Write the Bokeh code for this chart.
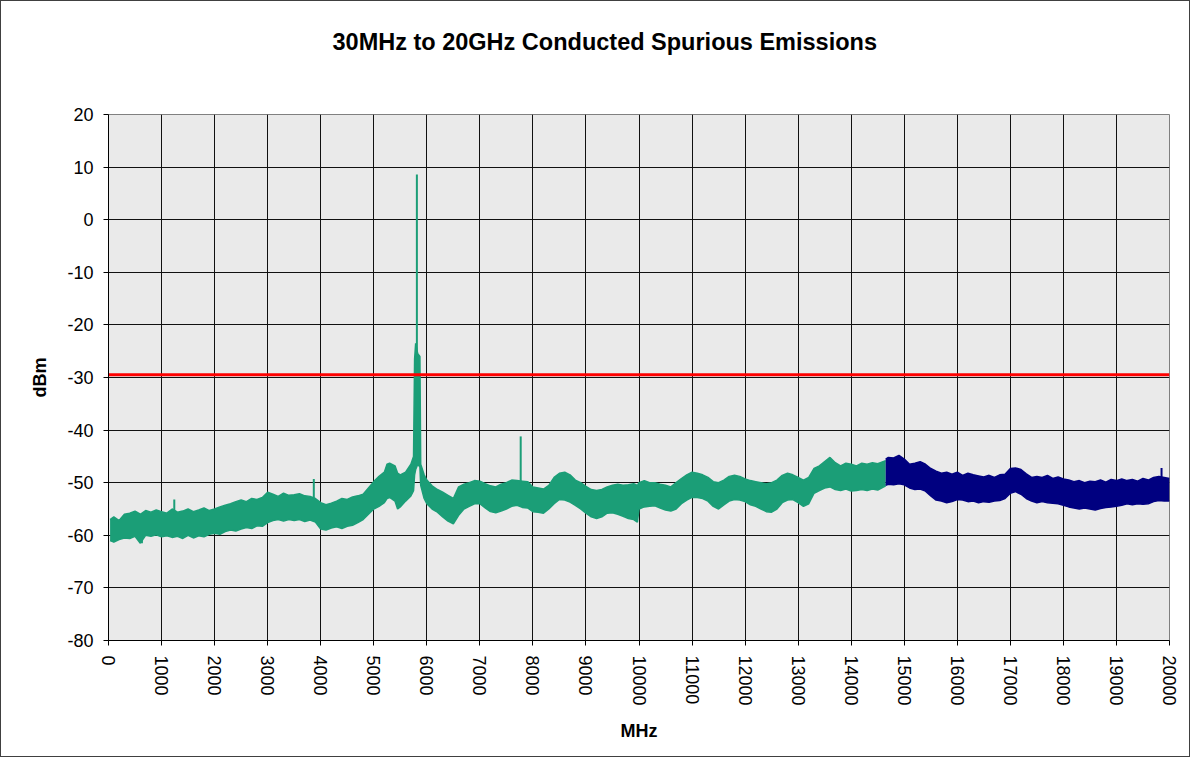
from bokeh.plotting import figure
from bokeh.models import Range1d, FixedTicker, Title
from bokeh.embed import file_html
from bokeh.resources import INLINE

# ---------------- data ----------------
x_ticks = list(range(0, 20001, 1000))
x_tick_labels = [str(v) for v in x_ticks]
y_ticks = list(range(-80, 21, 10))
y_tick_labels = [str(v) for v in y_ticks]

# green trace (30 MHz .. ~14.6 GHz): frequency, upper and lower envelope (dBm)
green_mhz = [30, 100, 200, 300, 400, 500, 600, 700, 800, 900,
             1000, 1100, 1200, 1300, 1400, 1500, 1600, 1700, 1800, 1900,
             2000, 2100, 2200, 2300, 2400, 2500, 2600, 2700, 2800, 2900,
             3000, 3100, 3200, 3300, 3400, 3500, 3600, 3700, 3800, 3900,
             4000, 4100, 4200, 4300, 4400, 4500, 4600, 4700, 4800, 4900,
             5000, 5100, 5200, 5250, 5300, 5400, 5450, 5500, 5600, 5700,
             5750, 5770, 5790, 5830, 5870, 5885, 5950,
             6000, 6100, 6200, 6300, 6400, 6500, 6600, 6700, 6800, 6900,
             7000, 7100, 7200, 7300, 7400, 7500, 7600, 7700, 7800, 7900,
             8000, 8100, 8200, 8300, 8400, 8500, 8600, 8700, 8800, 8900,
             9000, 9100, 9200, 9300, 9400, 9500, 9600, 9700, 9800, 9900, 9970,
             10000, 10100, 10200, 10300, 10400, 10500, 10600, 10700, 10800, 10900,
             11000, 11100, 11200, 11300, 11400, 11500, 11600, 11700, 11800, 11900,
             12000, 12100, 12200, 12300, 12400, 12500, 12600, 12700, 12800, 12900,
             13000, 13100, 13200, 13300, 13400, 13500, 13600, 13700, 13800, 13900,
             14000, 14100, 14200, 14300, 14400, 14500, 14650]
green_hi = [-57.0, -56.5, -57.2, -56.0, -55.8, -55.4, -56.0, -55.3, -55.6, -55.2,
            -55.5, -55.8, -55.0, -55.6, -55.4, -55.0, -55.5, -55.2, -54.8, -55.3,
            -55.0, -54.6, -54.3, -54.0, -53.6, -53.3, -53.6, -53.0, -53.2, -52.8,
            -51.8, -52.2, -52.6, -52.0, -52.4, -52.3, -52.1, -52.5, -52.6, -53.0,
            -53.8, -54.2, -53.9, -53.5, -53.0, -53.2, -52.7, -52.5, -52.2, -51.0,
            -49.8, -48.8, -48.0, -46.5, -46.3, -46.8, -48.2, -48.5, -48.0, -46.5,
            -45.0, -26.5, -23.5, -25.5, -26.0, -46.5, -48.5,
            -49.5, -50.6, -51.3, -51.8, -52.4, -53.0, -50.8, -50.3, -50.0, -49.6,
            -49.7, -50.2, -50.6, -50.8, -50.3, -50.0, -49.5, -49.6, -49.7, -49.8,
            -50.8, -51.0, -51.2, -50.5, -49.0, -48.2, -48.0, -48.5, -49.5, -50.0,
            -50.7, -51.3, -51.5, -51.3, -50.8, -50.5, -50.3, -50.5, -50.4, -50.2, -50.5,
            -50.0, -49.6, -50.0, -50.0, -50.3, -50.5, -50.8, -50.0, -49.2, -48.5,
            -48.0, -48.2, -48.5, -49.0, -49.8, -50.0, -49.5, -48.8, -48.6, -48.8,
            -49.3, -49.6, -49.8, -50.0, -50.2, -50.0, -49.5, -48.6, -48.2, -48.5,
            -49.0, -49.5, -49.0, -47.3, -46.8, -46.0, -45.2, -46.2, -46.8, -46.3,
            -46.5, -46.8, -46.3, -46.5, -46.2, -46.4, -45.8]
green_lo = [-61.0, -61.3, -60.8, -60.5, -60.6, -60.2, -61.5, -60.0, -60.2, -59.9,
            -60.3, -60.1, -60.4, -60.2, -60.6, -60.0, -60.5, -60.1, -60.3, -59.8,
            -59.6, -59.8, -59.3, -59.0, -59.2, -58.8, -58.5, -58.7, -58.2, -58.3,
            -57.6, -57.2, -57.0, -57.3, -57.0, -57.2, -57.0, -57.4, -57.1, -57.5,
            -58.8, -59.0, -58.6, -58.4, -58.7, -58.3, -58.1, -57.6, -57.0, -56.0,
            -55.0, -54.5, -53.8, -53.0, -52.8, -53.5, -55.0, -54.6, -53.5, -52.5,
            -51.5, -48.5, -47.5, -46.5, -47.0, -50.5, -53.0,
            -54.0, -55.0, -55.6, -56.5, -57.3, -57.8, -56.2, -55.0, -54.5, -54.0,
            -54.0, -54.8, -55.5, -55.7, -55.4, -55.0, -54.5, -54.3, -54.7, -54.8,
            -55.5, -55.6, -55.8, -55.0, -54.0, -53.2, -53.3, -53.7, -54.3, -55.0,
            -55.8, -56.5, -56.8, -56.5, -55.8, -55.7, -56.0, -56.4, -56.8, -57.0, -57.5,
            -55.0, -54.6, -54.5, -54.4, -54.8, -55.2, -55.4, -55.0, -54.0, -53.3,
            -52.8, -52.8, -53.0, -53.5, -54.5, -55.0, -54.2, -53.5, -53.2, -53.3,
            -53.6, -54.2, -54.5, -55.0, -55.5, -55.6, -55.0, -53.8, -53.3, -53.2,
            -53.8, -54.5, -54.0, -52.0, -51.5, -51.0, -50.8, -51.3, -51.5, -51.2,
            -51.6, -51.5, -51.3, -51.5, -51.2, -51.4, -50.6]

# blue trace (~14.65 GHz .. 20 GHz)
blue_mhz = [14650, 14700, 14800, 14900, 15000, 15100, 15200, 15300, 15400, 15500,
            15600, 15700, 15800, 15900, 16000, 16100, 16200, 16300, 16400, 16500,
            16600, 16700, 16800, 16900, 17000, 17100, 17200, 17300, 17400, 17500,
            17600, 17700, 17800, 17900, 18000, 18100, 18200, 18300, 18400, 18500,
            18600, 18700, 18800, 18900, 19000, 19100, 19200, 19300, 19400, 19500,
            19600, 19700, 19800, 19900, 20000]
blue_hi = [-45.5, -45.2, -45.3, -44.8, -45.5, -46.5, -46.3, -46.0, -46.5, -47.3,
           -47.8, -48.2, -48.0, -48.4, -48.0, -48.6, -48.2, -48.5, -48.7, -48.9,
           -48.6, -49.0, -48.5, -48.4, -47.3, -47.2, -47.5, -48.3, -49.0, -48.8,
           -49.0, -48.6, -49.2, -48.9, -49.3, -49.5, -49.8, -49.6, -50.0, -49.7,
           -49.8, -49.5, -49.9, -49.4, -49.6, -49.3, -49.6, -49.4, -49.7, -49.2,
           -49.5, -49.0, -48.8, -49.0, -49.2]
blue_lo = [-50.5, -50.3, -50.4, -50.2, -50.4, -51.0, -51.3, -51.2, -51.6, -52.5,
           -53.3, -53.5, -53.8, -53.6, -53.2, -53.3, -53.6, -53.5, -53.8, -53.6,
           -53.7, -53.5, -53.4, -53.0, -52.0, -51.7, -52.2, -53.0, -53.5, -53.8,
           -53.6, -53.8, -53.9, -54.0, -54.3, -54.6, -54.8, -55.0, -54.8, -55.0,
           -55.2, -54.9, -54.7, -54.6, -54.5, -54.3, -54.0, -54.2, -54.0, -54.1,
           -54.0, -53.6, -53.4, -53.5, -53.5]

# narrow spurs standing out of the noise floor
carrier_mhz = [5813]
carrier_base = [-26.0]
carrier_peak = [8.6]
spur_mhz = [630, 1240, 3870, 7770, 19850]
spur_base = [-59.0, -56.0, -53.0, -50.5, -50.0]
spur_peak = [-61.5, -53.2, -49.3, -41.2, -47.2]
spur_color = ["#1B9E77", "#1B9E77", "#1B9E77", "#1B9E77", "#000080"]

# limit line
limit_mhz = [0, 20000]
limit_dbm = [-29.5, -29.5]

GREEN = "#1B9E77"
NAVY = "#000080"

p = figure(width=1190, height=757, output_backend="svg", toolbar_location=None,
           x_range=Range1d(0, 20000), y_range=Range1d(-80, 20), title=None,
           min_border_left=107, min_border_right=22, min_border_top=113,
           min_border_bottom=118)
p.styles = {"border": "1px solid #404040"}
p.background_fill_color = "#EAEAEA"
p.border_fill_color = "white"
p.outline_line_color = "#808080"
p.outline_line_width = 1

# spacer between frame and title, then the title itself (further from the frame)
p.add_layout(Title(text=" ", text_font_size="1px", standoff=52), "above")
p.add_layout(Title(text="30MHz to 20GHz Conducted Spurious Emissions", align="left",
                   offset=224, text_font="Liberation Sans", text_font_size="23.5px",
                   text_font_style="bold", text_color="black", standoff=10), "above")

# axes
p.xaxis.ticker = FixedTicker(ticks=x_ticks)
p.yaxis.ticker = FixedTicker(ticks=y_ticks)
p.xaxis.major_label_overrides = dict(zip(x_ticks, x_tick_labels))
p.yaxis.major_label_overrides = dict(zip(y_ticks, y_tick_labels))
p.xaxis.major_label_orientation = "vertical"
for ax in (p.xaxis[0], p.yaxis[0]):
    ax.major_label_text_font = "Liberation Sans"
    ax.major_label_text_font_size = "18px"
    ax.major_label_text_color = "black"
    ax.axis_line_color = "black"
    ax.major_tick_line_color = "black"
    ax.major_tick_out = 5
    ax.major_tick_in = 0
    ax.minor_tick_line_color = None
    ax.axis_label_text_font = "Liberation Sans"
    ax.axis_label_text_font_size = "18px"
    ax.axis_label_text_font_style = "bold"
    ax.axis_label_text_color = "black"
p.xaxis.axis_label = "MHz"
p.yaxis.axis_label = "dBm"
p.xaxis.major_label_standoff = 10
p.yaxis.major_label_standoff = 10
p.xaxis.axis_label_standoff = 12
p.yaxis.axis_label_standoff = 14

p.xgrid.grid_line_color = "#111111"
p.ygrid.grid_line_color = "#111111"
p.xgrid.grid_line_width = 1
p.ygrid.grid_line_width = 1

# traces
p.varea(x=green_mhz, y1=green_lo, y2=green_hi, fill_color=GREEN)
p.line(green_mhz, green_hi, line_color=GREEN, line_width=1.5)
p.line(green_mhz, green_lo, line_color=GREEN, line_width=1.5)
p.varea(x=blue_mhz, y1=blue_lo, y2=blue_hi, fill_color=NAVY)
p.line(blue_mhz, blue_hi, line_color=NAVY, line_width=1.5)
p.line(blue_mhz, blue_lo, line_color=NAVY, line_width=1.5)
p.segment(x0=carrier_mhz, y0=carrier_base, x1=carrier_mhz, y1=carrier_peak,
          line_color=GREEN, line_width=2)
p.segment(x0=spur_mhz, y0=spur_base, x1=spur_mhz, y1=spur_peak,
          line_color=spur_color, line_width=2)

# limit
p.line(limit_mhz, limit_dbm, line_color="#FF0000", line_width=3)

open("out.html", "w").write(file_html(p, INLINE))
